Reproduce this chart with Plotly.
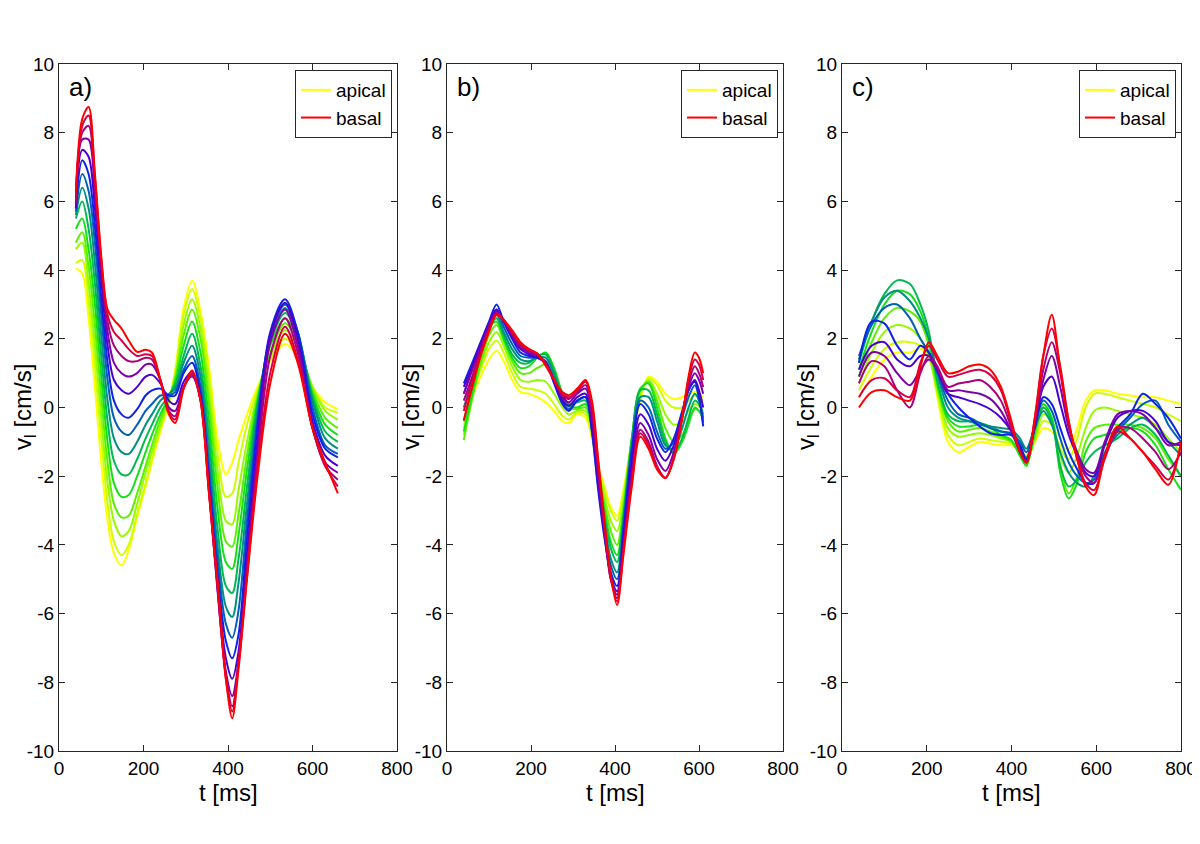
import plotly.graph_objects as go

# ---------------- data ----------------
# panel a) time samples [ms]
t_a = [40, 55, 70, 85, 100, 115, 130, 148, 165, 185, 205, 220, 240, 260, 275,
       295, 315, 335, 355, 375, 395, 410, 425, 445, 470, 500, 535, 565, 600, 630, 660]
# panel a) velocity curves, apical (first) -> basal (last) [cm/s]
v_a = [
    [4.05, 3.9, 2.6, 0.6, -1.6, -3.3, -4.25, -4.6, -4.15, -3.2, -2.3, -1.6, -0.7, 0.1, 1.1, 2.9, 3.7, 2.8, 1.2, -0.9, -1.95, -1.6, -0.95, -0.2, 0.6, 1.35, 1.85, 1.5, 0.6, 0.15, -0.05],
    [4.2, 4.3, 3.1, 1.2, -0.9, -2.8, -3.9, -4.3, -4.0, -3.1, -2.2, -1.5, -0.6, 0.2, 1.0, 2.7, 3.45, 2.6, 0.9, -1.3, -2.6, -2.5, -1.6, -0.5, 0.5, 1.4, 2.0, 1.6, 0.6, 0.0, -0.15],
    [4.6, 4.8, 3.6, 1.8, -0.3, -2.2, -3.3, -3.75, -3.6, -2.8, -1.9, -1.3, -0.5, 0.2, 0.9, 2.4, 3.15, 2.3, 0.5, -1.8, -3.3, -3.4, -2.4, -1.0, 0.4, 1.5, 2.25, 1.8, 0.6, -0.1, -0.35],
    [4.8, 5.1, 4.1, 2.4, 0.3, -1.6, -2.8, -3.2, -3.15, -2.5, -1.7, -1.1, -0.35, 0.25, 0.85, 2.1, 2.85, 2.0, 0.1, -2.3, -3.9, -4.05, -3.1, -1.4, 0.3, 1.6, 2.45, 1.9, 0.5, -0.3, -0.6],
    [5.2, 5.5, 4.6, 3.0, 0.9, -1.0, -2.2, -2.6, -2.55, -2.0, -1.3, -0.8, -0.2, 0.3, 0.75, 1.8, 2.5, 1.6, -0.4, -2.9, -4.5, -4.7, -3.7, -1.8, 0.2, 1.8, 2.6, 2.0, 0.4, -0.5, -0.8],
    [5.5, 6.0, 5.2, 3.6, 1.5, -0.4, -1.55, -1.95, -1.95, -1.5, -0.9, -0.5, 0.0, 0.35, 0.65, 1.5, 2.15, 1.2, -0.9, -3.5, -5.2, -5.4, -4.4, -2.3, 0.1, 1.9, 2.75, 2.1, 0.3, -0.7, -1.0],
    [5.6, 6.4, 5.8, 4.2, 2.1, 0.2, -0.9, -1.3, -1.35, -1.0, -0.5, -0.2, 0.2, 0.4, 0.55, 1.3, 1.8, 0.9, -1.4, -4.0, -5.8, -6.1, -5.1, -2.8, -0.1, 2.0, 2.9, 2.2, 0.2, -0.9, -1.2],
    [5.7, 6.8, 6.3, 4.8, 2.7, 0.8, -0.3, -0.7, -0.8, -0.5, -0.1, 0.1, 0.35, 0.35, 0.45, 1.1, 1.5, 0.6, -1.8, -4.4, -6.3, -6.7, -5.9, -3.3, -0.3, 2.1, 3.0, 2.2, 0.0, -1.1, -1.35],
    [5.8, 7.2, 6.8, 5.3, 3.2, 1.3, 0.2, -0.2, -0.3, -0.05, 0.35, 0.5, 0.55, 0.35, 0.35, 1.0, 1.3, 0.4, -2.1, -4.8, -6.8, -7.3, -6.6, -3.8, -0.5, 2.2, 3.15, 2.2, -0.2, -1.2, -1.45],
    [5.8, 7.5, 7.3, 5.8, 3.7, 1.8, 0.8, 0.5, 0.4, 0.6, 0.9, 0.95, 0.7, 0.2, 0.1, 0.75, 1.05, 0.3, -2.3, -5.1, -7.3, -7.9, -7.1, -4.3, -0.9, 2.1, 3.05, 2.0, -0.4, -1.4, -1.7],
    [5.9, 7.8, 7.8, 6.2, 4.0, 2.2, 1.3, 1.0, 0.9, 1.0, 1.25, 1.25, 0.8, 0.0, -0.1, 0.6, 0.9, 0.25, -2.4, -5.3, -7.7, -8.4, -7.4, -4.6, -1.3, 1.9, 2.85, 1.8, -0.6, -1.6, -1.9],
    [6.0, 8.0, 8.2, 6.5, 4.2, 2.5, 1.8, 1.5, 1.35, 1.35, 1.45, 1.4, 0.8, -0.1, -0.25, 0.6, 0.95, 0.2, -2.4, -5.2, -7.8, -8.7, -7.5, -4.8, -1.5, 1.5, 2.6, 1.6, -0.6, -1.7, -2.1],
    [6.1, 8.2, 8.5, 6.7, 4.3, 2.7, 2.2, 1.95, 1.7, 1.5, 1.55, 1.5, 0.8, -0.15, -0.35, 0.55, 1.0, 0.2, -2.5, -5.2, -7.9, -8.85, -7.4, -4.9, -1.8, 1.0, 2.35, 1.4, -0.6, -1.7, -2.3],
    [6.3, 8.4, 8.75, 6.8, 4.4, 2.85, 2.55, 2.3, 1.95, 1.62, 1.68, 1.6, 0.8, -0.2, -0.45, 0.55, 1.08, 0.2, -2.5, -5.0, -7.9, -9.05, -7.6, -5.0, -2.0, 0.7, 2.15, 1.3, -0.6, -1.6, -2.5],
]

# panel b)
t_b = [40, 60, 80, 100, 118, 135, 155, 175, 195, 215, 235, 255, 275, 290, 310,
       330, 345, 360, 375, 390, 405, 420, 440, 460, 480, 500, 520, 540, 560, 575, 590, 600, 610]
v_b = [
    [-0.5, 0.3, 0.9, 1.4, 1.65, 1.35, 0.8, 0.45, 0.4, 0.3, 0.15, -0.1, -0.4, -0.45, -0.2, -0.3, -0.9, -1.7, -2.3, -2.9, -3.15, -2.4, -1.0, 0.2, 0.9, 0.75, 0.4, 0.25, 0.3, 0.4, 0.45, 0.4, 0.3],
    [-0.6, 0.4, 1.1, 1.7, 1.95, 1.6, 1.0, 0.6, 0.55, 0.5, 0.4, 0.1, -0.25, -0.35, -0.15, -0.2, -0.8, -1.7, -2.4, -3.0, -3.3, -2.5, -1.0, 0.3, 0.85, 0.65, 0.2, 0.0, 0.0, 0.2, 0.35, 0.3, 0.2],
    [-0.8, 0.3, 1.2, 1.9, 2.2, 1.8, 1.2, 0.8, 0.75, 0.8, 0.75, 0.4, 0.0, -0.2, -0.1, -0.1, -0.7, -1.8, -2.6, -3.3, -3.6, -2.7, -0.9, 0.4, 0.8, 0.4, -0.2, -0.5, -0.4, -0.1, 0.1, 0.05, -0.1],
    [-0.95, 0.25, 1.3, 2.1, 2.4, 1.95, 1.35, 1.0, 1.0, 1.15, 1.25, 0.8, 0.25, 0.0, -0.05, 0.0, -0.6, -1.8, -2.8, -3.6, -4.0, -2.9, -0.9, 0.5, 0.75, 0.2, -0.6, -1.0, -0.8, -0.4, -0.05, -0.1, -0.3],
    [-0.7, 0.4, 1.5, 2.3, 2.5, 2.0, 1.45, 1.15, 1.2, 1.45, 1.6, 1.15, 0.4, 0.05, 0.0, 0.1, -0.6, -1.9, -3.0, -3.9, -4.3, -3.1, -0.9, 0.55, 0.7, 0.0, -0.9, -1.35, -1.0, -0.5, 0.0, -0.1, -0.35],
    [-0.4, 0.6, 1.6, 2.3, 2.6, 2.1, 1.55, 1.3, 1.3, 1.5, 1.55, 1.05, 0.35, 0.1, 0.15, 0.2, -0.6, -2.0, -3.2, -4.1, -4.5, -3.2, -1.0, 0.5, 0.5, -0.2, -1.0, -1.3, -0.9, -0.3, 0.2, 0.1, -0.2],
    [0.0, 0.8, 1.7, 2.4, 2.7, 2.2, 1.7, 1.4, 1.35, 1.45, 1.45, 0.95, 0.3, 0.05, 0.2, 0.3, -0.6, -2.1, -3.4, -4.4, -4.8, -3.3, -1.1, 0.3, 0.3, -0.4, -1.1, -1.2, -0.6, 0.0, 0.4, 0.2, -0.3],
    [0.4, 1.1, 1.8, 2.45, 2.85, 2.35, 1.85, 1.5, 1.45, 1.45, 1.35, 0.8, 0.15, -0.05, 0.2, 0.3, -0.65, -2.3, -3.6, -4.6, -5.0, -3.5, -1.2, 0.2, 0.0, -0.7, -1.2, -1.0, -0.3, 0.3, 0.65, 0.3, -0.45],
    [0.7, 1.3, 1.9, 2.5, 3.0, 2.5, 2.0, 1.6, 1.5, 1.45, 1.3, 0.7, 0.1, -0.1, 0.2, 0.3, -0.7, -2.4, -3.8, -4.8, -5.2, -3.6, -1.3, 0.1, -0.2, -0.9, -1.3, -0.9, -0.1, 0.5, 0.75, 0.3, -0.55],
    [0.6, 1.2, 1.85, 2.45, 2.85, 2.5, 2.05, 1.7, 1.55, 1.45, 1.3, 0.75, 0.2, 0.05, 0.3, 0.4, -0.5, -2.2, -3.7, -4.9, -5.35, -3.8, -1.6, -0.2, -0.5, -1.2, -1.55, -1.1, -0.2, 0.5, 0.8, 0.5, 0.0],
    [0.4, 1.1, 1.75, 2.4, 2.8, 2.55, 2.1, 1.75, 1.6, 1.5, 1.3, 0.8, 0.3, 0.15, 0.4, 0.55, -0.3, -2.0, -3.6, -5.0, -5.45, -4.0, -1.9, -0.45, -0.8, -1.5, -1.85, -1.3, -0.2, 0.6, 1.0, 0.8, 0.4],
    [0.2, 0.9, 1.65, 2.3, 2.75, 2.55, 2.15, 1.8, 1.65, 1.55, 1.3, 0.8, 0.35, 0.25, 0.45, 0.65, -0.1, -1.8, -3.5, -5.0, -5.55, -4.1, -2.1, -0.65, -1.0, -1.7, -2.05, -1.45, -0.25, 0.7, 1.2, 1.0, 0.6],
    [-0.1, 0.75, 1.55, 2.25, 2.7, 2.55, 2.2, 1.85, 1.7, 1.57, 1.25, 0.8, 0.4, 0.3, 0.5, 0.75, 0.1, -1.6, -3.4, -4.9, -5.65, -4.2, -2.2, -0.75, -1.1, -1.75, -2.05, -1.5, -0.3, 0.8, 1.4, 1.25, 0.8],
    [-0.37, 0.6, 1.5, 2.2, 2.7, 2.55, 2.25, 1.9, 1.7, 1.57, 1.22, 0.8, 0.45, 0.36, 0.55, 0.8, 0.2, -1.5, -3.3, -4.9, -5.75, -4.3, -2.3, -0.85, -1.2, -1.8, -2.05, -1.5, -0.3, 0.9, 1.6, 1.45, 1.0],
]

# panel c)
t_c = [40, 70, 100, 130, 160, 185, 205, 225, 250, 275, 300, 325, 350, 375, 400, 420,
       435, 455, 475, 495, 515, 535, 555, 575, 595, 620, 650, 680, 710, 740, 770, 800]
v_c = [
    [0.3, 0.9, 1.4, 1.6, 1.6, 1.7, 1.5, 0.3, -1.0, -1.3, -1.15, -1.0, -1.05, -1.1, -1.1, -1.2, -1.4, -1.0, -0.6, -0.7, -1.1, -1.2, -0.6, 0.2, 0.5, 0.5, 0.4, 0.35, 0.3, 0.3, 0.2, 0.1],
    [0.5, 1.2, 1.7, 1.9, 1.9, 1.8, 1.5, 0.4, -0.8, -1.1, -1.0, -0.9, -0.95, -1.0, -1.05, -1.3, -1.5, -1.0, -0.4, -0.5, -1.2, -1.5, -0.9, 0.0, 0.4, 0.4, 0.3, 0.2, 0.1, 0.0, -0.2, -0.4],
    [0.7, 1.6, 2.2, 2.4, 2.3, 2.0, 1.5, 0.5, -0.6, -0.85, -0.8, -0.75, -0.8, -0.9, -1.0, -1.35, -1.6, -0.9, -0.2, -0.4, -1.4, -1.9, -1.4, -0.6, -0.1, 0.0, -0.1, -0.2, -0.3, -0.5, -0.9, -1.3],
    [0.9, 1.9, 2.6, 2.9, 2.8, 2.5, 1.8, 0.6, -0.4, -0.7, -0.65, -0.6, -0.7, -0.85, -1.0, -1.4, -1.65, -0.8, 0.0, -0.3, -1.7, -2.5, -2.0, -1.0, -0.6, -0.5, -0.5, -0.5, -0.6, -0.9, -1.5, -2.0],
    [1.1, 2.2, 3.0, 3.4, 3.3, 2.8, 2.0, 0.7, -0.3, -0.55, -0.55, -0.5, -0.6, -0.8, -0.95, -1.4, -1.7, -0.7, 0.1, -0.3, -1.9, -2.65, -2.2, -1.3, -0.9, -0.8, -0.7, -0.6, -0.7, -1.1, -1.8, -2.4],
    [1.3, 2.5, 3.3, 3.7, 3.6, 3.0, 2.2, 0.8, -0.2, -0.4, -0.4, -0.45, -0.55, -0.7, -0.8, -1.2, -1.45, -0.6, 0.0, -0.4, -1.7, -2.3, -2.1, -1.6, -1.3, -1.1, -0.9, -0.6, -0.5, -0.8, -1.4, -2.0],
    [1.4, 2.5, 3.2, 3.4, 3.1, 2.6, 2.0, 1.0, 0.0, -0.3, -0.4, -0.5, -0.55, -0.6, -0.65, -0.9, -1.2, -0.6, -0.1, -0.5, -1.3, -1.9, -2.2, -2.3, -2.0, -1.3, -0.8, -0.5, -0.3, -0.6, -1.0, -1.4],
    [1.5, 2.4, 2.9, 3.0, 2.6, 2.0, 1.6, 1.0, 0.2, -0.2, -0.3, -0.45, -0.6, -0.7, -0.75, -1.0, -1.3, -0.5, 0.2, -0.1, -0.9, -1.6, -2.0, -2.2, -2.1, -1.4, -0.7, -0.3, 0.1, 0.2, -0.5, -1.0],
    [1.3, 2.5, 2.45, 1.8, 1.4, 1.8, 1.6, 1.1, 0.4, 0.0, -0.3, -0.55, -0.75, -0.8, -0.8, -1.1, -1.5, -0.6, 0.3, 0.1, -0.6, -1.3, -1.8, -2.2, -2.2, -1.4, -0.6, -0.2, 0.4, 0.1, -0.3, -0.9],
    [1.1, 1.8, 1.9, 1.4, 1.2, 1.5, 1.5, 1.1, 0.4, 0.3, 0.2, 0.1, -0.05, -0.3, -0.7, -1.2, -1.55, -0.5, 0.6, 0.9, 0.1, -0.8, -1.4, -1.9, -2.0, -1.1, -0.3, -0.1, -0.1, -0.4, -1.0, -1.1],
    [0.9, 1.6, 1.5, 1.0, 0.65, 1.1, 1.4, 1.1, 0.5, 0.5, 0.45, 0.4, 0.25, -0.1, -0.7, -1.3, -1.6, -0.5, 0.8, 1.5, 0.6, -0.6, -1.3, -1.8, -1.9, -1.0, -0.2, -0.1, -0.2, -0.6, -1.1, -1.0],
    [0.7, 1.35, 1.2, 0.5, 0.0, 1.0, 1.5, 1.2, 0.6, 0.7, 0.75, 0.8, 0.6, 0.2, -0.6, -1.3, -1.6, -0.4, 1.1, 1.9, 1.0, -0.5, -1.4, -2.0, -2.2, -1.4, -0.6, -0.6, -0.9, -1.3, -1.8, -1.3],
    [0.3, 0.8, 0.85, 0.5, 0.3, 1.3, 1.8, 1.4, 0.9, 0.95, 1.05, 1.1, 0.95, 0.5, -0.5, -1.3, -1.6, -0.3, 1.5, 2.3, 1.2, -0.4, -1.5, -2.2, -2.4, -1.5, -0.7, -0.9, -1.3, -1.7, -2.1, -1.1],
    [0.0, 0.45, 0.5, 0.3, 0.2, 1.2, 1.9, 1.5, 1.0, 1.05, 1.2, 1.25, 1.1, 0.6, -0.4, -1.3, -1.6, -0.3, 1.5, 2.7, 1.1, -0.4, -1.5, -2.3, -2.55, -1.4, -0.55, -0.9, -1.3, -1.8, -2.25, -1.0],
]

x_ticks = [0, 200, 400, 600, 800]
x_tick_text = ["0", "200", "400", "600", "800"]
y_ticks = [-10, -8, -6, -4, -2, 0, 2, 4, 6, 8, 10]
y_tick_text = ["-10", "-8", "-6", "-4", "-2", "0", "2", "4", "6", "8", "10"]
panel_labels = ["a)", "b)", "c)"]
legend_names = ["apical", "basal"]
x_title = "t [ms]"
y_title = "v<sub>l</sub> [cm/s]"

# ---------------- styles ----------------
colors = [
    "rgb(255,255,0)", "rgb(205,255,0)", "rgb(150,250,0)", "rgb(90,240,0)",
    "rgb(20,225,20)", "rgb(0,185,80)", "rgb(0,145,130)", "rgb(0,95,185)",
    "rgb(15,35,230)", "rgb(75,0,210)", "rgb(125,0,170)", "rgb(170,0,125)",
    "rgb(215,0,70)", "rgb(255,0,0)",
]
OFF = 8                      # page body margin of the html wrapper
W, H = 1200 - OFF, 844 - OFF
x_dom_px = [(59, 397), (447, 783), (842, 1181)]   # page pixel positions
y_dom_px = (64, 751)
FONT = "Liberation Sans, Arial, sans-serif"
AX_COL = "#262626"


def px(xp):
    return (xp - OFF) / W


def py(yp):
    return 1 - (yp - OFF) / H


fig = go.Figure()
panels = [(t_a, v_a), (t_b, v_b), (t_c, v_c)]
for p, (t, vs) in enumerate(panels):
    sfx = "" if p == 0 else str(p + 1)
    for k, v in enumerate(vs):
        if k == 0:
            name, show = legend_names[0], True
        elif k == len(vs) - 1:
            name, show = legend_names[1], True
        else:
            name, show = "curve %d" % k, False
        fig.add_trace(go.Scatter(
            x=t, y=v, mode="lines", name=name, showlegend=show,
            legend="legend" + sfx, xaxis="x" + sfx, yaxis="y" + sfx,
            line=dict(color=colors[k], width=2.0, shape="spline", smoothing=0.9),
            hoverinfo="skip"))

layout = dict(width=W, height=H,
              margin=dict(l=0, r=0, t=0, b=0, pad=0, autoexpand=False),
              paper_bgcolor="white", plot_bgcolor="white",
              font=dict(family=FONT, color="black"))
annotations = []
for p in range(3):
    sfx = "" if p == 0 else str(p + 1)
    xl, xr = x_dom_px[p]
    common = dict(showline=True, linecolor=AX_COL, linewidth=1, mirror="ticks",
                  ticks="inside", ticklen=6, tickcolor=AX_COL, tickwidth=1,
                  showgrid=False, zeroline=False, automargin=False,
                  tickfont=dict(family=FONT, size=19, color="black"))
    layout["xaxis" + sfx] = dict(common, domain=[px(xl), px(xr)], range=[0, 800],
                                 tickvals=x_ticks, ticktext=x_tick_text,
                                 anchor="y" + sfx)
    layout["yaxis" + sfx] = dict(common, domain=[py(y_dom_px[1]), py(y_dom_px[0])],
                                 range=[-10, 10], tickvals=y_ticks,
                                 ticktext=y_tick_text, anchor="x" + sfx)
    layout["legend" + sfx] = dict(
        x=px(xr - 5), xanchor="right", y=py(70), yanchor="top",
        bgcolor="white", bordercolor=AX_COL, borderwidth=1,
        font=dict(family=FONT, size=19, color="black"),
        tracegroupgap=0, itemwidth=30)
    annotations.append(dict(text=x_title, x=px((xl + xr) / 2), y=py(792),
                            xref="paper", yref="paper", showarrow=False,
                            xanchor="center", yanchor="middle",
                            font=dict(family=FONT, size=24, color="black")))
    annotations.append(dict(text=y_title, x=px(xl - 35), y=py(407),
                            xref="paper", yref="paper", showarrow=False,
                            textangle=-90, xanchor="center", yanchor="middle",
                            font=dict(family=FONT, size=24, color="black")))
    annotations.append(dict(text=panel_labels[p], x=px(xl + 8), y=py(87),
                            xref="paper", yref="paper", showarrow=False,
                            xanchor="left", yanchor="middle",
                            font=dict(family=FONT, size=26, color="black")))
layout["annotations"] = annotations
fig.update_layout(**layout)
fig.write_html("out.html")
